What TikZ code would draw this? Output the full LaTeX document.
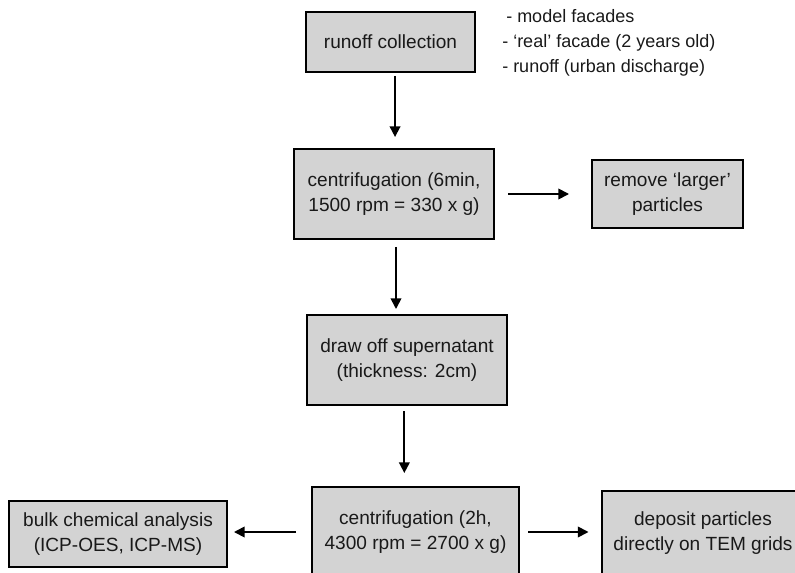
\documentclass[tikz,border=0pt]{standalone}
\usepackage{fontspec}
\setmainfont{Liberation Sans}
\usetikzlibrary{arrows.meta}
\definecolor{boxgray}{RGB}{211,211,211}
\definecolor{ink}{RGB}{25,25,25}

\begin{document}
\begin{tikzpicture}[x=0.75pt,y=-0.75pt,
    box/.style={draw=black,fill=boxgray,line width=1.5pt,align=center,text=ink,
      inner sep=0pt,font=\fontsize{14.3}{18.8}\selectfont},
    arr/.style={-{Triangle[length=8pt,width=8pt]},line width=1.3pt}]
          \useasboundingbox (0,0) rectangle (795,573);
          \clip (0,0) rectangle (795,573);
          \node[box,minimum width=126.75pt,minimum height=45pt] (runoff) at (390.5,42) {runoff collection};
          \node[anchor=west,align=left,inner sep=0pt,text=ink,font=\fontsize{13.5}{18.75}\selectfont] (sources) at (502,43)
            {\hspace*{3pt}- model facades\\- ‘real’ facade (2 years old)\\- runoff (urban discharge)};
          \node[box,minimum width=150pt,minimum height=67.5pt] (centA) at (394,194) {centrifugation (6min,\\1500 rpm = 330 x g)};
          \node[box,minimum width=113.25pt,minimum height=51pt] (remove) at (667.5,194) {remove ‘larger’\\particles};
          \node[box,minimum width=150pt,minimum height=67.5pt] (drawoff) at (407,360) {draw off supernatant\\(thickness: 2cm)};
          \node[box,minimum width=155.25pt,minimum height=67.5pt] (centB) at (415.5,532) {centrifugation (2h,\\4300 rpm = 2700 x g)};
          \node[box,minimum width=163.5pt,minimum height=49.5pt] (bulk) at (118,534) {bulk chemical analysis\\(ICP-OES, ICP-MS)};
          \node[box,minimum width=152.25pt,minimum height=63pt] (deposit) at (703,533) {deposit particles\\directly on TEM grids};
          \draw[arr,shorten <=2.25pt,shorten >=8.25pt] ([xshift=3.4pt]runoff.south) -- ([xshift=3.4pt]runoff.south |- centA.north);
          \draw[arr,shorten <=9.75pt,shorten >=16.5pt] (centA.east) -- (centA.east -| remove.west);
          \draw[arr,shorten <=5.25pt,shorten >=3.75pt] ([xshift=1.5pt]centA.south) -- ([xshift=1.5pt]centA.south |- drawoff.north);
          \draw[arr,shorten <=3.75pt,shorten >=9.75pt] ([xshift=-2pt]drawoff.south) -- ([xshift=-2pt]drawoff.south |- centB.north);
          \draw[arr,shorten <=11.25pt,shorten >=4.5pt] (centB.west) -- (centB.west -| bulk.east);
          \draw[arr,shorten <=6pt,shorten >=9pt] (centB.east) -- (centB.east -| deposit.west);
        \end{tikzpicture}
\end{document}
